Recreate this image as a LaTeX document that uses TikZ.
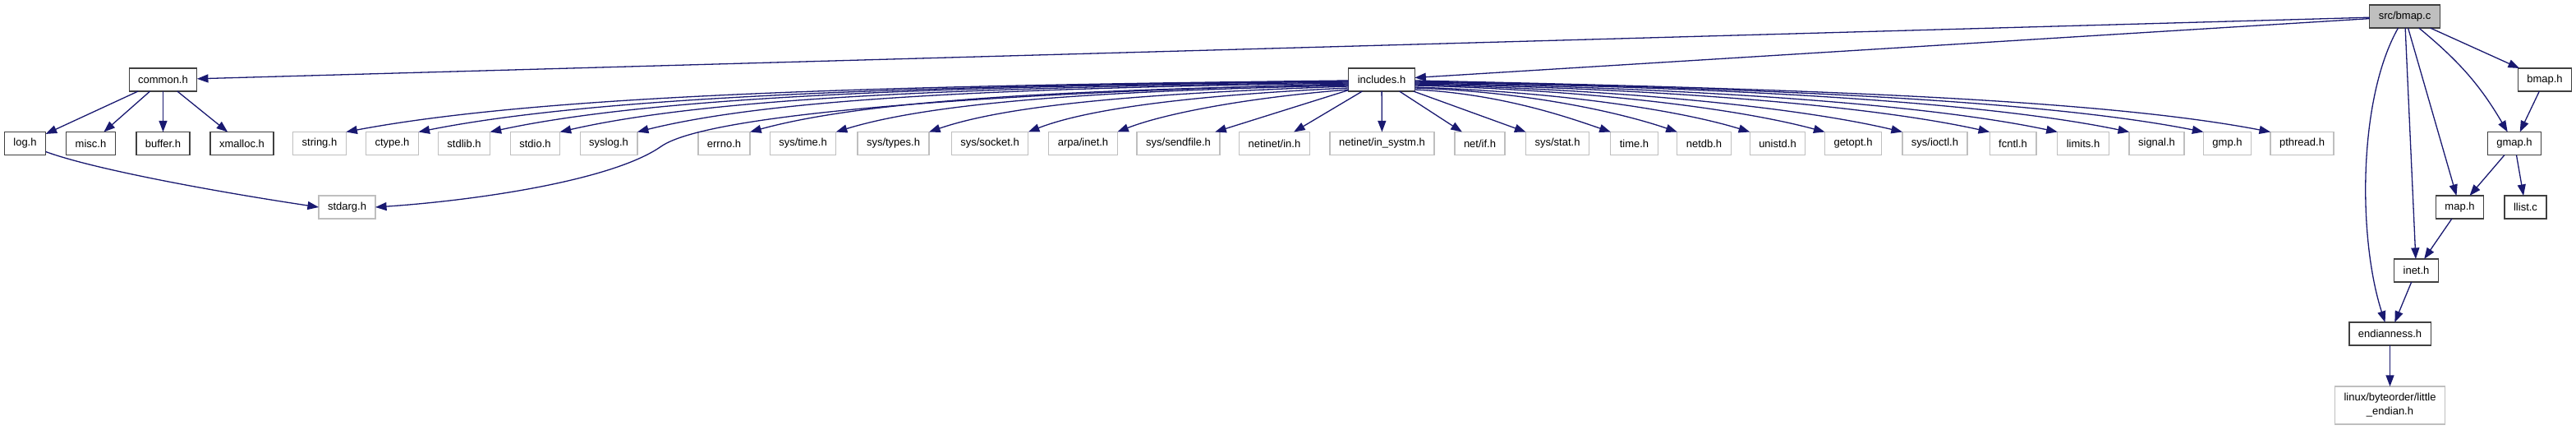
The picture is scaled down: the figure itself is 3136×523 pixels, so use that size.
\documentclass[tikz,border=0pt]{standalone}
\usepackage{fontspec}
\setmainfont{Liberation Sans}
\usetikzlibrary{arrows.meta,calc}
\definecolor{edgeblue}{HTML}{191970}
\definecolor{docgrey}{HTML}{404040}
\definecolor{sysgrey}{HTML}{BFBFBF}

\begin{document}
\begin{tikzpicture}[
  x=0.5pt, y=-0.5pt, line width=.65pt,
  dep/.style={draw=edgeblue, line width=.65pt, -{Triangle[length=6.8pt,width=5pt]}},
  hfile/.style={draw=docgrey, fill=white, minimum height=14pt, inner xsep=5.5pt,
    inner ysep=0pt, outer sep=0pt, line width=.65pt, font=\fontsize{6.5}{8.5}\selectfont},
  sysfile/.style={hfile, draw=sysgrey},
  srcfile/.style={hfile, fill=sysgrey},
]
  % Row levels in image pixels, y running downwards.
  \def\ya{20} \def\yb{97} \def\yc{174.5} \def\yd{252} \def\ye{329} \def\yf{406} \def\yg{493}

  \useasboundingbox (0,0) rectangle (3136,523);

  % The source file and the project headers it includes.
  \node[srcfile] (src) at (2927.5,\ya) {src/bmap.c};
  \node[hfile] (common) at (198.5,\yb) {common.h};
  \node[hfile] (inc) at (1682,\yb) {includes.h};
  \node[hfile] (bmaph) at (3098,\yb) {bmap.h};

  % Headers of common.h.
  \node[hfile] (log) at (30.5,\yc) {log.h};
  \node[hfile] (misc) at (110.5,\yc) {misc.h};
  \node[hfile] (buffer) at (198.5,\yc) {buffer.h};
  \node[hfile] (xmalloc) at (294.5,\yc) {xmalloc.h};

  % System headers of includes.h, all on one row.
  \foreach \n/\x/\m in {string/389/{string.h}, ctype/477.5/{ctype.h}, stdlib/565/{stdlib.h},
      stdio/651.5/{stdio.h}, syslog/741/{syslog.h}, errno/881.5/{errno.h},
      systime/977.5/{sys/time.h}, systypes/1087.5/{sys/types.h}, syssocket/1205/{sys/socket.h},
      arpainet/1318.5/{arpa/inet.h}, sendfile/1434.5/{sys/sendfile.h}, netin/1551.5/{netinet/in.h},
      insystm/1682.5/{netinet/in\_systm.h}, netif/1801.5/{net/if.h}, sysstat/1896/{sys/stat.h},
      timeh/1989.5/{time.h}, netdb/2074.5/{netdb.h}, unistd/2164/{unistd.h},
      getopt/2256/{getopt.h}, sysioctl/2355.5/{sys/ioctl.h}, fcntl/2450.5/{fcntl.h},
      limits/2536/{limits.h}, signal/2625.5/{signal.h}, gmp/2711.5/{gmp.h},
      pthread/2802.5/{pthread.h}} {
    \node[sysfile] (\n) at (\x,\yc) {\m};
  }
  \node[sysfile] (stdarg) at (422.5,\yd) {stdarg.h};

  % Right-hand chain down to the byte order header.
  \node[hfile] (gmaph) at (3061,\yc) {gmap.h};
  \node[hfile] (maph) at (2994.5,\yd) {map.h};
  \node[hfile] (llist) at (3074.5,\yd) {llist.c};
  \node[hfile] (ineth) at (2941.5,\ye) {inet.h};
  \node[hfile] (endian) at (2909.5,\yf) {endianness.h};
  \node[sysfile, minimum height=23pt, align=center] (little) at (2909.5,\yg)
    {linux/byteorder/little\\\_endian.h};

  % Straight dependencies.
  \draw[dep] (src) -- (common);
  \draw[dep] (src) -- (inc);
  \draw[dep] (src) -- (bmaph);
  \draw[dep] (src) -- (maph);
  \draw[dep] (src) -- (ineth);
  \draw[dep] (src) to[bend left=10] (gmaph);
  \draw[dep] ($(src.south)+(-8,0)$) .. controls +(-49,86) and +(-33,-102) .. ($(endian.north)+(-6,0)$);
  \draw[dep] (bmaph) -- (gmaph);
  \draw[dep] (gmaph) -- (maph);
  \draw[dep] (gmaph) -- (llist);
  \draw[dep] (maph) -- (ineth);
  \draw[dep] (ineth) -- (endian);
  \draw[dep] (endian) -- (little);
  \foreach \n in {log, misc, buffer, xmalloc} \draw[dep] (common) -- (\n);
  \draw[dep] ($(log.south east)+(0,-4)$) .. controls +(60,22) and +(-120,-18) .. (stdarg.west);

  % includes.h fans out: left arcs, straight middle, right arcs.
  \foreach \hdr/\dy/\ax/\ay/\bx/\by in {string/1/-549/6/244/-46, ctype/1.5/-509/6/226/-45,
      stdlib/2/-470/6/209/-45, stdio/3/-432/6/192/-44, syslog/4/-389/6/173/-43,
      errno/6/-328/6/146/-40, systime/7/-280/6/124/-38, systypes/8/-229/8/102/-35,
      syssocket/10/-174/8/77/-30, arpainet/12/-126/10/56/-22} {
    \draw[dep] ($(inc.west)+(0,\dy)$) .. controls +(\ax,\ay) and +(\bx,\by) .. (\hdr.north east);
  }
  \foreach \hdr in {sendfile, netin, insystm, netif, sysstat} \draw[dep] (inc) -- (\hdr);
  \foreach \hdr/\dy/\ax/\ay/\bx/\by in {timeh/12/107/5/-47/-16, netdb/10/144/5/-64/-22,
      unistd/9/183/6/-81/-25, getopt/7/225/6/-100/-27, sysioctl/6/266/6/-118/-28,
      fcntl/5/315/6/-140/-31, limits/4/351/6/-156/-33, signal/3/391/6/-174/-36,
      gmp/2/432/8/-192/-38, pthread/1/469/10/-208/-40} {
    \draw[dep] ($(inc.east)+(0,\dy)$) .. controls +(\ax,\ay) and +(\bx,\by) .. (\hdr.north west);
  }
  \coordinate (bend) at (805,178);
  \draw[dep] ($(inc.west)+(0,5)$) .. controls +(-400,10) and +(60,-42) .. (bend)
    .. controls +(-60,42) and +(120,-8) .. (stdarg.east);
\end{tikzpicture}
\end{document}
